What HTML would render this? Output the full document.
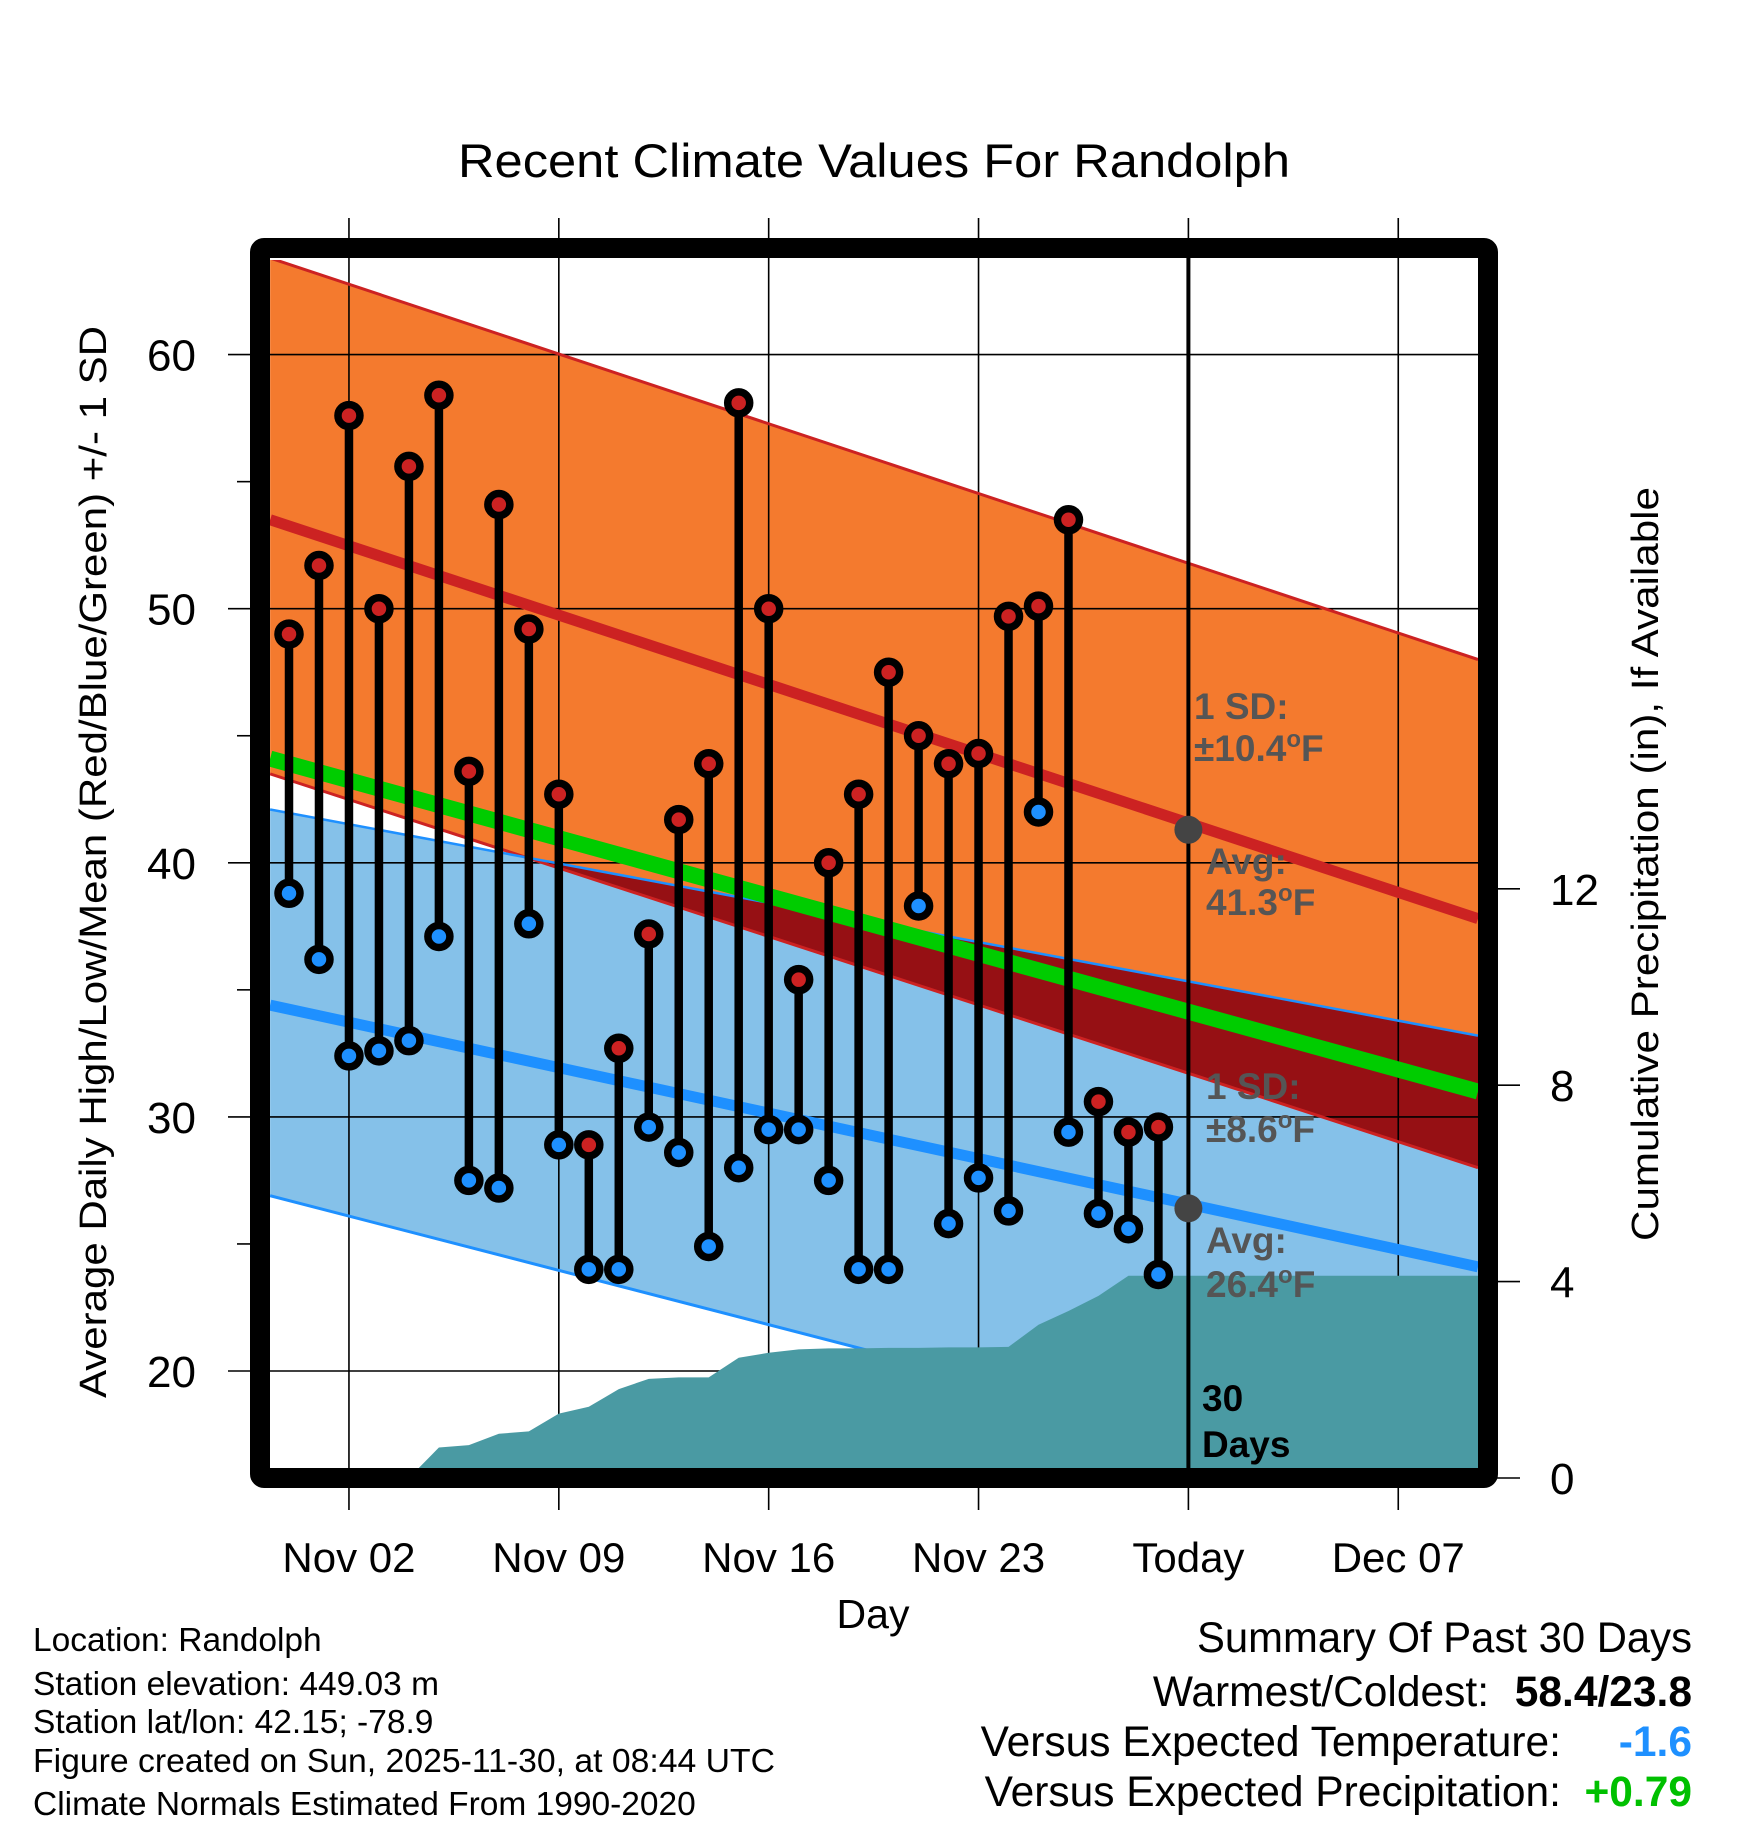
<!DOCTYPE html>
<html><head><meta charset="utf-8"><style>
html,body{margin:0;padding:0;background:#fff}
svg{display:block;font-family:"Liberation Sans",Arial,sans-serif}
</style></head><body>
<svg id="chart" width="1748" height="1828" viewBox="0 0 1748 1828" xmlns="http://www.w3.org/2000/svg">
<defs>
<clipPath id="plotClip"><rect x="270" y="260" width="1208" height="1208"/></clipPath>
</defs>
<g id="layers" clip-path="url(#plotClip)"></g>
<g id="above"></g>
<text x="874" y="177" font-size="47" text-anchor="middle" textLength="832" lengthAdjust="spacingAndGlyphs">Recent Climate Values For Randolph</text>
<text transform="translate(106,862) rotate(-90)" font-size="38" text-anchor="middle" textLength="1072" lengthAdjust="spacingAndGlyphs">Average Daily High/Low/Mean (Red/Blue/Green) +/- 1 SD</text>
<text transform="translate(1658,864) rotate(-90)" font-size="38" text-anchor="middle" textLength="754" lengthAdjust="spacingAndGlyphs">Cumulative Precipitation (in), If Available</text>
<text x="873" y="1628" font-size="41" text-anchor="middle">Day</text>
<g font-size="33.5">
<text x="33" y="1651">Location: Randolph</text>
<text x="33" y="1695">Station elevation: 449.03 m</text>
<text x="33" y="1733">Station lat/lon: 42.15; -78.9</text>
<text x="33" y="1772" textLength="742" lengthAdjust="spacingAndGlyphs">Figure created on Sun, 2025-11-30, at 08:44 UTC</text>
<text x="33" y="1815">Climate Normals Estimated From 1990-2020</text>
</g>
<g font-size="42.5" text-anchor="end">
<text x="1692" y="1652" textLength="495" lengthAdjust="spacingAndGlyphs">Summary Of Past 30 Days</text>
<text x="1489" y="1706">Warmest/Coldest:</text>
<text x="1692" y="1706" font-weight="bold">58.4/23.8</text>
<text x="1561" y="1756">Versus Expected Temperature:</text>
<text x="1692" y="1756" font-weight="bold" fill="#1e90ff">-1.6</text>
<text x="1561" y="1806">Versus Expected Precipitation:</text>
<text x="1692" y="1806" font-weight="bold" fill="#00c000">+0.79</text>
</g>
</svg>
<script>
const highs=[49.0,51.7,57.6,50.0,55.6,58.4,43.6,54.1,49.2,42.7,28.9,32.7,37.2,41.7,43.9,58.1,50.0,35.4,40.0,42.7,47.5,45.0,43.9,44.3,49.7,50.1,53.5,30.6,29.4,29.6];
const lows=[38.8,36.2,32.4,32.6,33.0,37.1,27.5,27.2,37.6,28.9,24.0,24.0,29.6,28.6,24.9,28.0,29.5,29.5,27.5,24.0,24.0,38.3,25.8,27.6,26.3,42.0,29.4,26.2,25.6,23.8];
const precip=[0,0,0,0,0,0.62,0.67,0.9,0.95,1.31,1.45,1.81,2.02,2.05,2.05,2.45,2.55,2.62,2.64,2.64,2.65,2.65,2.66,2.66,2.67,3.12,3.4,3.71,4.12,4.12];
const normDays=[-0.63,39.66];
const upperHigh=[63.8,48.0];
const meanHigh=[53.5,37.8];
const lowerHigh=[43.5,28.0];
const meanAll=[44.1,31.0];
const upperLow=[42.1,33.2];
const meanLow=[34.4,24.1];
const lowerLow=[26.9,14.6];
const yTicks=[20,30,40,50,60];
const yMinor=[25,35,45,55];
const pTicks=[0,4,8,12];
const xTickDays=[2,9,16,23,30,37];
const xTickLabels=["Nov 02","Nov 09","Nov 16","Nov 23","Today","Dec 07"];
const todayDay=30;
const todayHigh=41.3, todayLow=26.4;

const NS="http://www.w3.org/2000/svg";
const X=d=>289+d*29.98;
const Y=v=>354.6+(60-v)*25.41;
const P=p=>1478-p*49.1;
const svg=document.getElementById('chart');
const layers=document.getElementById('layers');
const above=document.getElementById('above');
function mk(tag,attrs,parent){const e=document.createElementNS(NS,tag);for(const k in attrs)e.setAttribute(k,attrs[k]);(parent||layers).appendChild(e);return e;}
function line(arr){return normDays.map((d,i)=>X(d)+','+Y(arr[i])).join(' ');}
function band(a,b){return line(a)+' '+normDays.map((d,i)=>[X(d),Y(b[i])]).reverse().map(p=>p.join(',')).join(' ');}

let e;
e=mk('polygon',{points:band(upperHigh,lowerHigh),fill:'#f47a2e'});


e=mk('polygon',{points:band(upperLow,lowerLow),fill:'#85c1e9'});


mk('clipPath',{id:'lowBandClip'},svg.querySelector('defs'));
mk('polygon',{points:band(upperLow,lowerLow)},document.getElementById('lowBandClip'));
e=mk('polygon',{points:band(upperHigh,lowerHigh),fill:'#961014','clip-path':'url(#lowBandClip)'});



const grid=mk('g',{stroke:'#000','stroke-width':1.6},svg);


svg.insertBefore(grid,above);
xTickDays.forEach(d=>{const l=mk('line',{x1:X(d),x2:X(d),y1:218,y2:1510},grid);

});
yTicks.forEach(v=>{const l=mk('line',{x1:228,x2:1478,y1:Y(v),y2:Y(v)},grid);

});
yMinor.forEach(v=>{const l=mk('line',{x1:237,x2:252,y1:Y(v),y2:Y(v)},grid);

});
pTicks.forEach(p=>{const l=mk('line',{x1:1495,x2:1520,y1:P(p),y2:P(p)},grid);

});
const lines=[[upperHigh,'#cc2222',3,'upper-high-sd-line'],[lowerHigh,'#cc2222',3,'lower-high-sd-line'],[upperLow,'#1e90ff',2.5,'upper-low-sd-line'],[lowerLow,'#1e90ff',3,'lower-low-sd-line'],[meanHigh,'#cc2222',11,'mean-high-line'],[meanLow,'#1e90ff',11,'mean-low-line'],[meanAll,'#00cc00',16,'mean-line']];
const lineGroup=mk('g',{'clip-path':'url(#plotClip)'},svg);
svg.insertBefore(lineGroup,above);
lines.forEach(([arr,c,w,n])=>{const l=mk('polyline',{points:line(arr),fill:'none',stroke:c,'stroke-width':w},lineGroup);

});
let pts=precip.map((p,i)=>X(i)+','+P(p));
pts.push('1478,'+P(precip[precip.length-1]),'1478,1490',X(0)+',1490');
e=mk('polygon',{points:pts.join(' '),fill:'#4a9aa3'},lineGroup);


e=mk('line',{x1:X(todayDay),x2:X(todayDay),y1:255,y2:1470,stroke:'#000','stroke-width':4},above);


highs.forEach((h,i)=>{
 const s=mk('line',{x1:X(i),x2:X(i),y1:Y(h),y2:Y(lows[i]),stroke:'#000','stroke-width':8.5},above);
 
 
});
highs.forEach((h,i)=>{
 const c1=mk('circle',{cx:X(i),cy:Y(h),r:11,fill:'#cc2222',stroke:'#000','stroke-width':7.5},above);
 
 
 const c2=mk('circle',{cx:X(i),cy:Y(lows[i]),r:11,fill:'#1e90ff',stroke:'#000','stroke-width':7.5},above);
 
 
});
[[todayHigh,'today-high-marker'],[todayLow,'today-low-marker']].forEach(([v,n])=>{
 const c=mk('circle',{cx:X(todayDay),cy:Y(v),r:14,fill:'#444'},above);
 
 
});
function txt(x,y,s,opts,name){const t=mk('text',Object.assign({x:x,y:y},opts),above);t.innerHTML=s;

return t;}
const ga={'font-size':37,'font-weight':'bold',fill:'#555'};
const deg='<tspan dy="-14" font-size="24">o</tspan><tspan dy="14">F</tspan>';
txt(1194,719,'1 SD:',ga,'high-sd-label');
txt(1194,761,'±10.4'+deg,ga,'high-sd-value');
txt(1206,874,'Avg:',ga,'high-avg-label');
txt(1206,915,'41.3'+deg,ga,'high-avg-value');
txt(1206,1099,'1 SD:',ga,'low-sd-label');
txt(1206,1142,'±8.6'+deg,ga,'low-sd-value');
txt(1206,1253,'Avg:',ga,'low-avg-label');
txt(1206,1297,'26.4'+deg,ga,'low-avg-value');
txt(1202,1411,'30',{'font-size':37,'font-weight':'bold',fill:'#000'},'days-count-label');
txt(1202,1457,'Days',{'font-size':37,'font-weight':'bold',fill:'#000'},'days-text-label');
e=mk('rect',{x:260,y:248,width:1228,height:1230,rx:4,fill:'none',stroke:'#000','stroke-width':20},above);


yTicks.forEach(v=>{txt(196,Y(v)+16,v,{'font-size':44,'text-anchor':'end'},'y-tick-label');});
pTicks.forEach(p=>{txt(1550,P(p)+16,p,{'font-size':44},'precip-tick-label');});
xTickDays.forEach((d,i)=>{txt(X(d),1572,xTickLabels[i],{'font-size':42,'text-anchor':'middle'},'x-tick-label');});
</script>
</body></html>
